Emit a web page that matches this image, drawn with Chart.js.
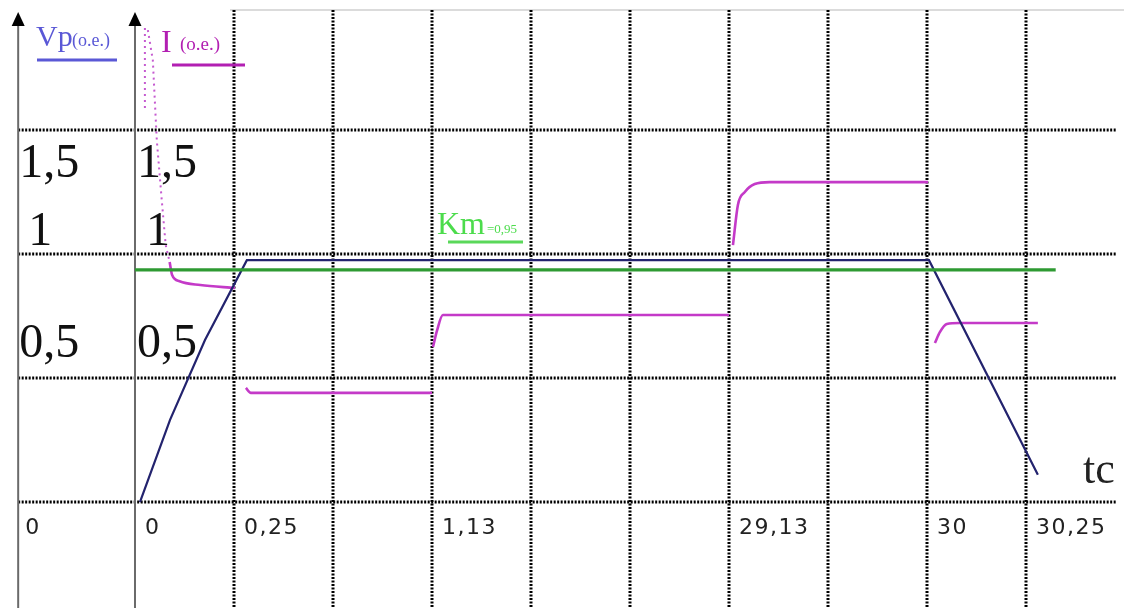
<!DOCTYPE html>
<html>
<head>
<meta charset="utf-8">
<script src="https://cdn.jsdelivr.net/npm/chart.js@4.4.1/dist/chart.umd.min.js"></script>
<style>
  html, body { margin: 0; padding: 0; background: #fff; }
  #wrap { width: 1124px; height: 608px; position: relative; }
</style>
</head>
<body>
<div id="wrap"><canvas id="myChart"></canvas></div>
<script>
// x is in grid cells (one cell per time mark), y in o.e.
const vpX = [0.05, 0.354, 0.707, 1.13, 8.02, 9.12];
const vpY = [0.0, 0.331, 0.653, 0.975, 0.975, 0.11];

// current, null = break between pieces
const iX = [0.35, 0.375, 0.45, 0.66, 1.01, null,
            1.12, 1.17, 3.0, null,
            3.01, 3.05, 3.11, 6.0, null,
            6.04, 6.09, 6.16, 6.26, 6.41, 8.01, null,
            8.08, 8.13, 8.2, 8.33, 9.12];
const iY = [0.968, 0.915, 0.89, 0.875, 0.863, null,
            0.46, 0.44, 0.44, null,
            0.625, 0.69, 0.754, 0.754, null,
            1.036, 1.198, 1.25, 1.282, 1.29, 1.29, null,
            0.641, 0.685, 0.718, 0.722, 0.722];

// inrush spike (dotted)
const spikeX = [0.10, 0.10, null, 0.13, 0.18, 0.22, 0.27, 0.31, 0.35];
const spikeY = [1.911, 1.581, null, 1.903, 1.782, 1.46, 1.218, 1.036, 0.968];

const kmX = [0, 9.3];
const kmY = [0.936, 0.936];

const xGrid = [1, 2, 3, 4, 5, 6, 7, 8, 9];
const yGrid = [0, 0.5, 1, 1.5];
const xTickValues = [-1.21, 0, 1, 3, 6, 8, 9];
const xTickLabels = ['0', '0', '0,25', '1,13', '29,13', '30', '30,25'];
const yLabelValues = [0.585, 1.035, 1.31];
const yLabels = ['0,5', '1', '1,5'];

function pts(xs, ys) {
  return xs.map((x, i) => (x === null ? {x: null, y: null} : {x: x, y: ys[i]}));
}

const sketch = {
  id: 'sketch',
  beforeDatasetsDraw(chart) {
    const c = chart.ctx;
    const sx = chart.scales.x, sy = chart.scales.y;
    const axL = sx.getPixelForValue(-1.18), axI = sx.getPixelForValue(0);
    c.save();
    // top border line
    c.strokeStyle = '#cfcfcf';
    c.lineWidth = 1.5;
    c.beginPath(); c.moveTo(230, 10); c.lineTo(1124, 10); c.stroke();
    // dotted grid
    c.strokeStyle = '#000';
    c.setLineDash([2, 1.5]);
    c.lineWidth = 3;
    xGrid.forEach(v => {
      const px = Math.round(sx.getPixelForValue(v));
      c.beginPath(); c.moveTo(px, 10); c.lineTo(px, 608); c.stroke();
    });
    c.lineWidth = 2.8;
    yGrid.forEach(v => {
      const py = Math.round(sy.getPixelForValue(v));
      c.beginPath(); c.moveTo(axL, py); c.lineTo(1117, py); c.stroke();
    });
    c.setLineDash([]);
    // axes with arrows
    [axL, axI].forEach(px => {
      c.strokeStyle = '#6a6a6a';
      c.lineWidth = 2;
      c.beginPath(); c.moveTo(px, 22); c.lineTo(px, 608); c.stroke();
      c.fillStyle = '#000';
      c.beginPath(); c.moveTo(px, 12); c.lineTo(px - 6.5, 26); c.lineTo(px + 6.5, 26); c.closePath(); c.fill();
    });

    // y labels, both axes
    c.fillStyle = '#111';
    c.font = '48px "Liberation Serif"';
    c.textAlign = 'left';
    c.textBaseline = 'alphabetic';
    yLabels.forEach((t, i) => {
      const py = sy.getPixelForValue(yLabelValues[i]);
      const off = t === '1' ? 9 : 0;
      c.fillText(t, axL + 1 + off, py);
      c.fillText(t, axI + 2 + off, py);
    });

    // x labels
    c.font = '22px "DejaVu Sans"';
    c.letterSpacing = '1.5px';
    c.fillStyle = '#222';
    xTickValues.forEach((v, i) => {
      c.fillText(xTickLabels[i], sx.getPixelForValue(v) + 10, 534);
    });
    c.letterSpacing = '0px';

    // Vp title
    c.fillStyle = '#5a58d6';
    c.font = '30px "Liberation Serif"';
    c.fillText('Vp', 36, 46);
    c.font = '18px "Liberation Serif"';
    c.fillText('(o.e.)', 72, 46);
    c.strokeStyle = '#5a58d6';
    c.lineWidth = 3;
    c.beginPath(); c.moveTo(37, 60); c.lineTo(117, 60); c.stroke();

    // I title
    c.fillStyle = '#b21fb2';
    c.font = '32px "Liberation Serif"';
    c.fillText('I', 161, 52);
    c.font = '19px "Liberation Serif"';
    c.fillText('(o.e.)', 180, 50);
    c.strokeStyle = '#b21fb2';
    c.beginPath(); c.moveTo(172, 65); c.lineTo(245, 65); c.stroke();

    // Km label
    c.fillStyle = '#4cdc4c';
    c.font = '32px "Liberation Serif"';
    c.fillText('Km', 437, 234);
    c.font = '13px "Liberation Serif"';
    c.fillText('=0,95', 487, 233);
    c.strokeStyle = '#5ad85a';
    c.lineWidth = 3;
    c.beginPath(); c.moveTo(448, 242); c.lineTo(523, 242); c.stroke();

    // tc
    c.fillStyle = '#222';
    c.font = '44px "Liberation Serif"';
    c.fillText('tc', 1083, 483);
    c.restore();
  }
};

const chart = new Chart(document.getElementById('myChart'), {
  type: 'line',
  data: {
    datasets: [
      { label: 'Km', data: pts(kmX, kmY), borderColor: '#2e9a32', borderWidth: 3.2, pointRadius: 0 },
      { label: 'Vp', data: pts(vpX, vpY), borderColor: '#23236e', borderWidth: 2.2, pointRadius: 0, tension: 0 },
      { label: 'I', data: pts(iX, iY), borderColor: '#c43ac8', borderWidth: 2.6, pointRadius: 0, spanGaps: false, cubicInterpolationMode: 'monotone' },
      { label: 'I spike', data: pts(spikeX, spikeY), borderColor: '#c55ad0', borderWidth: 2, borderDash: [2, 4], pointRadius: 0, spanGaps: false }
    ]
  },
  options: {
    responsive: true,
    maintainAspectRatio: false,
    animation: false,
    layout: { padding: 0 },
    plugins: { legend: { display: false }, tooltip: { enabled: false } },
    scales: {
      x: { type: 'linear', min: -1.3636, max: 9.99, display: false },
      y: { type: 'linear', min: -0.4274, max: 2.0242, display: false }
    }
  },
  plugins: [sketch]
});
</script>
</body>
</html>
